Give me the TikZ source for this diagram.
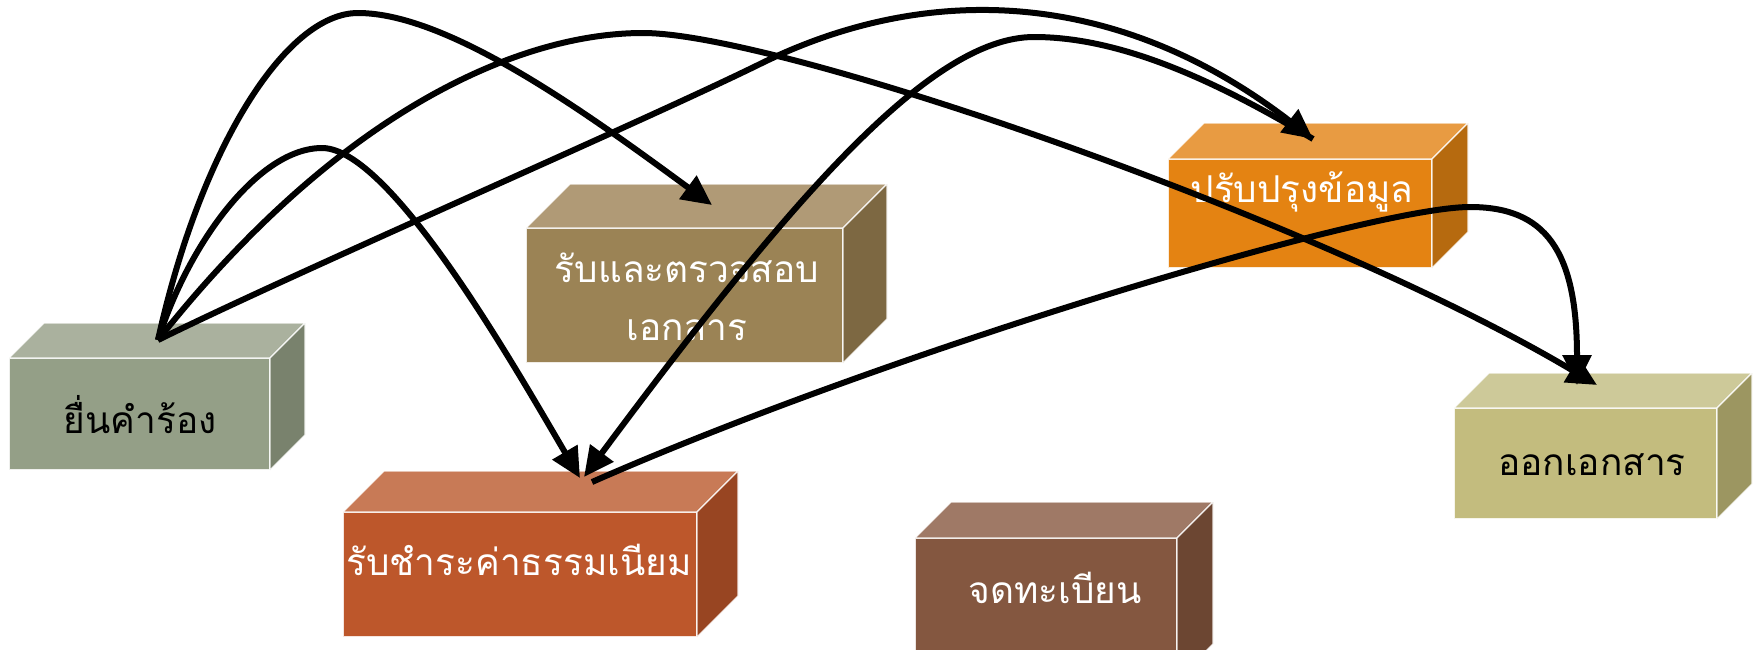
\documentclass[tikz,border=0pt]{standalone}
\usepackage{fontspec}
\newfontfamily\thai[Script=Thai]{Loma}
\usetikzlibrary{arrows.meta}
\definecolor{b1f}{HTML}{949F87}\definecolor{b1t}{HTML}{AAB19E}\definecolor{b1s}{HTML}{79826D}
\definecolor{b2f}{HTML}{9B8355}\definecolor{b2t}{HTML}{B09A76}\definecolor{b2s}{HTML}{7D6842}
\definecolor{b3f}{HTML}{BD572B}\definecolor{b3t}{HTML}{C87A56}\definecolor{b3s}{HTML}{984522}
\definecolor{b4f}{HTML}{E48312}\definecolor{b4t}{HTML}{E89B42}\definecolor{b4s}{HTML}{B66A0F}
\definecolor{b5f}{HTML}{C3BC7E}\definecolor{b5t}{HTML}{CDC999}\definecolor{b5s}{HTML}{9C9661}
\definecolor{b6f}{HTML}{845740}\definecolor{b6t}{HTML}{9F7966}\definecolor{b6s}{HTML}{6C4632}
\newcommand\mycube[7]{%
  \node[cubefront, minimum width=#4pt, minimum height=#5pt, fill=#7f] (#1) at (#2,#3) {};
  \filldraw[cubeedge, fill=#7t] (#1.north west) -- ++(#6,-#6) -- ++(#4,0) -- (#1.north east) -- cycle;
  \filldraw[cubeedge, fill=#7s] (#1.north east) -- ++(#6,-#6) -- ++(0,#5) -- (#1.south east) -- cycle;
}
\begin{document}
\begin{tikzpicture}[x=1pt,y=-1pt,
  cubefront/.style={rectangle, inner sep=0pt, outer sep=0pt, draw=white, draw opacity=0.85, line width=1.2pt},
  cubeedge/.style={draw=white, draw opacity=0.85, line width=1.2pt, line join=round},
  boxtext/.style={anchor=base, inner sep=0pt, font=\thai\fontsize{37}{42}\selectfont},
  flowline/.style={line width=6pt, -{Triangle[length=30pt,width=28pt]}}]
\useasboundingbox (0,0) rectangle (1758,649);
\clip (0,0) rectangle (1758,649);
% boxes
\mycube{b1}{139.5}{414}{261}{112}{35}{b1}
\mycube{b2}{684.5}{295.5}{317}{135}{44}{b2}
\mycube{b3}{520}{574.5}{354}{125}{41}{b3}
\mycube{b4}{1300}{213.5}{264}{109}{36}{b4}
\mycube{b5}{1585.5}{463.5}{263}{111}{35}{b5}
\mycube{b6}{1046}{609}{262}{142}{36}{b6}
% texts
\node[boxtext, text=black] (t1) at (140,433) {ยื่นคำร้อง};
\node[boxtext, text=white] (t2a) at (687,282) {รับและตรวจสอบ};
\node[boxtext, text=white] (t2b) at (687,340) {เอกสาร};
\node[boxtext, text=white] (t3) at (519,575) {รับชำระค่าธรรมเนียม};
\node[boxtext, text=white] (t4) at (1302,202) {ปรับปรุงข้อมูล};
\node[boxtext, text=black] (t5) at (1592,475) {ออกเอกสาร};
\node[boxtext, text=white] (t6) at (1055,603) {จดทะเบียน};
% connection points
\coordinate (b1c) at (158,340);
\coordinate (b2c) at (712,205);
\coordinate (b3a) at (580,478);
\coordinate (b3b) at (584,477);
\coordinate (b3o) at (592,482);
\coordinate (b4c) at (1313,139);
\coordinate (b5a) at (1597,385);
\coordinate (b5b) at (1577,385);
% connectors
\draw[flowline] (b1c) .. controls (200,150) and (285,13) .. (358,13) .. controls (450,13) and (592,117) .. (b2c);
\draw[flowline] (b1c) .. controls (190,240) and (260,148) .. (322,148) .. controls (390,148) and (512,362) .. (b3a);
\draw[flowline] (b1c) .. controls (300,270) and (640,123) .. (760,64) .. controls (930,-20) and (1120,-10) .. (b4c);
\draw[flowline] (b1c) .. controls (340,110) and (520,33) .. (643,33) .. controls (780,33) and (1320,220) .. (b5a);
\draw[flowline] (b4c) .. controls (1205,74) and (1114,37) .. (1034,37) .. controls (930,37) and (790,200) .. (b3b);
\draw[flowline] (b3o) .. controls (892,350) and (1370,207) .. (1470,207) .. controls (1545,207) and (1577,250) .. (b5b);
\end{tikzpicture}
\end{document}
